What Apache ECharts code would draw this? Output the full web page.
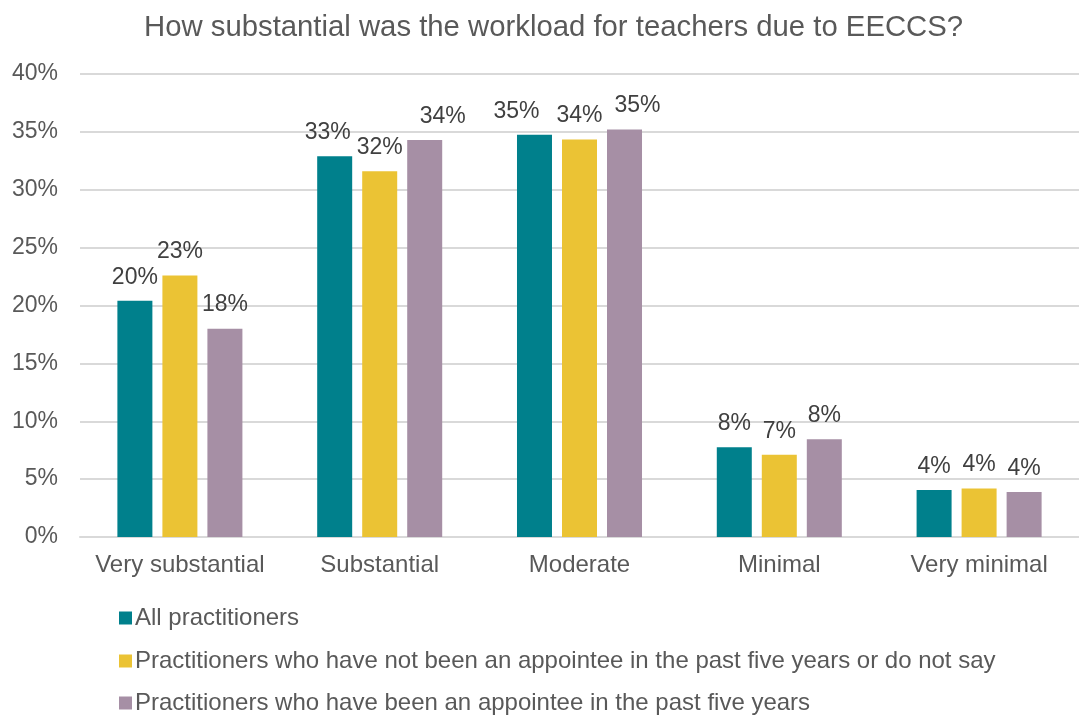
<!DOCTYPE html>
<html>
<head>
<meta charset="utf-8">
<script src="https://cdn.jsdelivr.net/npm/echarts@6/dist/echarts.min.js"></script>
<style>html,body{margin:0;padding:0;background:#fff}#c{width:1079px;height:715px}</style>
</head>
<body>
<div id="c"></div>
<script>
const titleText = 'How substantial was the workload for teachers due to EECCS?';
const categories = ['Very substantial', 'Substantial', 'Moderate', 'Minimal', 'Very minimal'];
const seriesNames = [
  'All practitioners',
  'Practitioners who have not been an appointee in the past five years or do not say',
  'Practitioners who have been an appointee in the past five years'
];
const allPractitioners = [20.4, 32.9, 34.75, 7.75, 4.06];
const notAppointee = [22.6, 31.6, 34.35, 7.1, 4.2];
const appointee = [18.0, 34.3, 35.2, 8.44, 3.89];
const colors = ['#00808C', '#EBC334', '#A68FA5'];
// label nudges (style only) to reproduce the source's collision avoidance: [series][category] -> x shift px
const labelShift = [[0, -7, -18, 0, 0], [0, 0, 0, 0, 0], [0, 18, 13, 0, 0]];

const font = '"Liberation Sans", Arial, sans-serif';
const chart = echarts.init(document.getElementById('c'));
const data = [allPractitioners, notAppointee, appointee];
const legendTops = [601, 644, 686];
chart.setOption({
  animation: false,
  title: {
    text: titleText, left: 139, top: 8,
    textStyle: {fontFamily: font, fontSize: 29.3, fontWeight: 'normal', color: '#595959'}
  },
  legend: seriesNames.map((n, i) => ({
    orient: 'horizontal', left: 114, top: legendTops[i],
    itemWidth: 13, itemHeight: 13, icon: 'rect', itemGap: 0,
    textStyle: {fontFamily: font, fontSize: 24, color: '#595959', padding: [0, 0, 0, -2]},
    data: [n]
  })),
  grid: {left: 80, right: -1, top: 74, bottom: 178, containLabel: false},
  xAxis: {
    type: 'category', data: categories,
    axisLine: {lineStyle: {color: '#d9d9d9', width: 2}},
    axisTick: {show: false},
    axisLabel: {interval: 0, fontFamily: font, fontSize: 24, color: '#595959', margin: 16}
  },
  yAxis: {
    type: 'value', min: 0, max: 40, interval: 5,
    axisLine: {show: false}, axisTick: {show: false},
    splitLine: {lineStyle: {color: '#d9d9d9', width: 2}},
    axisLabel: {fontFamily: font, fontSize: 23, color: '#595959', margin: 22, formatter: v => v + '%'}
  },
  series: seriesNames.map((n, i) => ({
    name: n, type: 'bar', barWidth: 35, barGap: '28.6%',
    data: data[i].map((v, j) => ({value: v, label: {offset: [labelShift[i][j], 0]}})),
    itemStyle: {color: colors[i]},
    label: {
      show: true, position: 'top', distance: 12,
      fontFamily: font, fontSize: 23, color: '#404040',
      formatter: p => Math.round(p.value) + '%'
    }
  }))
});
</script>
</body>
</html>
